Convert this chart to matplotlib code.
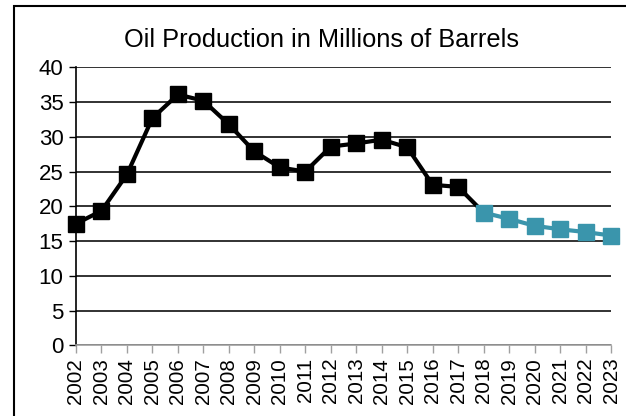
import matplotlib.pyplot as plt
from matplotlib.patches import Rectangle

plt.rcParams['font.family'] = ['Liberation Sans', 'DejaVu Sans']

###  Data
years = [str(y) for y in range(2002, 2024)]
actual = [17.5, 19.35, 24.6, 32.7, 36.1, 35.2, 31.8, 27.9, 25.6, 25.0,
          28.6, 29.05, 29.6, 28.5, 23.1, 22.8, 19.1]
forecast = [19.1, 18.2, 17.2, 16.7, 16.3, 15.8]
teal = '#3A95AC'

fig = plt.figure(figsize=(6.26, 4.16), dpi=100)
ax = fig.add_axes([76/626, 1 - 345.3/416, (611 - 76)/626, (345.3 - 67.4)/416])

x_act = list(range(len(actual)))
x_fc = list(range(len(actual) - 1, len(actual) - 1 + len(forecast)))

ax.plot(x_act, actual, color='black', lw=3, zorder=3, clip_on=False)
ax.plot(x_act[:-1], actual[:-1], 's', color='black', ms=11.5, zorder=4, clip_on=False)
ax.plot(x_fc, forecast, color=teal, lw=3, marker='s', ms=11.5, zorder=5, clip_on=False)

ax.set_xlim(0, len(years) - 1)
ax.set_ylim(0, 40)
ax.set_yticks(range(0, 41, 5))
ax.set_xticks(range(len(years)))
ax.set_xticklabels(years, rotation=90, fontsize=14.8)
ax.tick_params(axis='y', labelsize=16, length=5, width=1, color='black', pad=4)
ax.tick_params(axis='x', length=6, width=1, color='#a0a0a0', pad=3)

ax.grid(axis='y', color='#222222', lw=1.3)
ax.set_axisbelow(True)
for s in ['top', 'right']:
    ax.spines[s].set_visible(False)
ax.spines['left'].set_color('black')
ax.spines['left'].set_linewidth(1.2)
ax.spines['bottom'].set_color('#a0a0a0')
ax.spines['bottom'].set_linewidth(1.2)

fig.text(322/626, 1 - 40/416, 'Oil Production in Millions of Barrels',
         ha='center', va='center', fontsize=18.3)

# chart border
fig.patches.append(Rectangle((14/626, -0.1), 1.0, 1 - 6/416 + 0.1, transform=fig.transFigure,
                             fill=False, ec='black', lw=1.5))

fig.savefig('out.png', dpi=100)
